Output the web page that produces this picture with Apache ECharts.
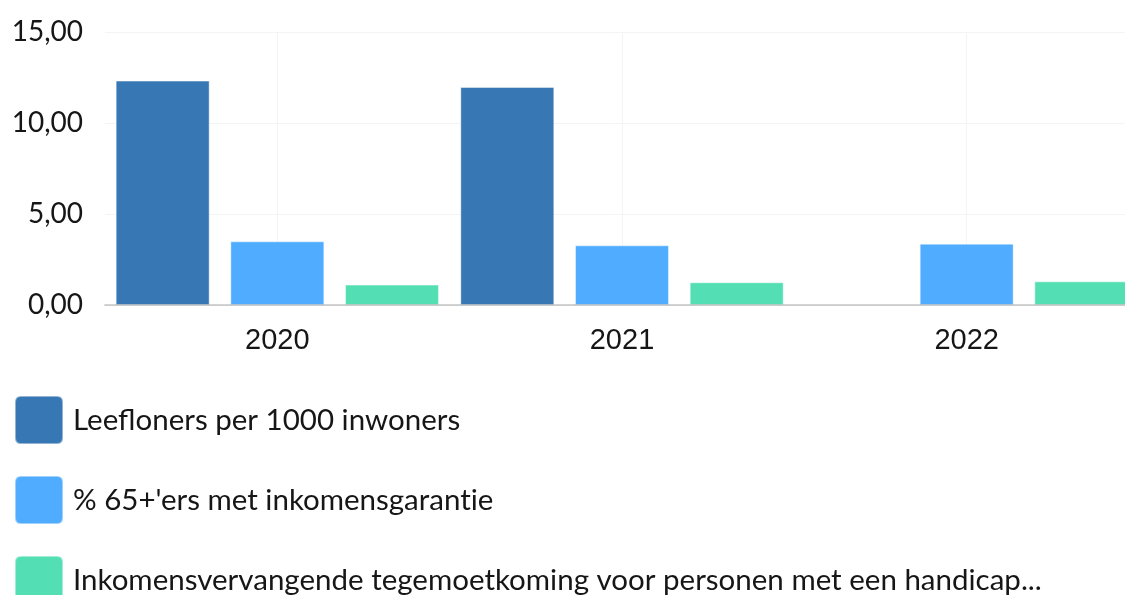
<!DOCTYPE html>
<html>
<head>
<meta charset="utf-8">
<script src="https://cdn.jsdelivr.net/npm/echarts@6/dist/echarts.min.js"></script>
<style>
  html, body { margin: 0; padding: 0; background: #ffffff; }
  #chart { width: 1125px; height: 595px; }
</style>
</head>
<body>
<div id="chart"></div>
<script>
// Years on the category axis
const years = ['2020', '2021', '2022'];

// Series names
const seriesNames = [
  'Leefloners per 1000 inwoners',
  "% 65+'ers met inkomensgarantie",
  'Inkomensvervangende tegemoetkoming voor personen met een handicap...'
];

// Values per year (null = no figure for that year)
const leefloners = [12.33, 11.98, null];
const inkomensgarantie = [3.50, 3.28, 3.37];
const tegemoetkoming = [1.12, 1.25, 1.30];

// Value-axis tick labels (0, 5, 10, 15)
const yTickLabels = ['0,00', '5,00', '10,00', '15,00'];

const colors = ['#3777b4', '#4facff', '#54deb3'];

// Rounded square used as legend marker
const legendIcon = 'path://M6,0 H42 Q48,0 48,6 V42 Q48,48 42,48 H6 Q0,48 0,42 V6 Q0,0 6,0 Z';

const chart = echarts.init(document.getElementById('chart'));

function barSeries(name, data, color) {
  return {
    name: name,
    type: 'bar',
    data: data,
    barWidth: 94,
    barGap: '22%',
    itemStyle: {
      color: color,
      borderColor: 'rgba(255,255,255,0.45)',
      borderWidth: 1
    }
  };
}

// Split "ti" into two text runs so the font does not draw its ligature
function noTiLigature(name) {
  return name.replace(/ti/g, 't{s|i}');
}

const legendFont = { fontFamily: 'Lato', fontSize: 29.5, color: '#161616' };

chart.setOption({
  animation: false,
  color: colors,
  // plot area runs past the right edge of the canvas
  grid: { left: 105, right: -14, top: 32, bottom: 290, outerBoundsMode: 'none' },
  legend: {
    orient: 'vertical',
    left: 9,
    top: 390,
    height: 400,
    itemWidth: 48,
    itemHeight: 48,
    itemGap: 30,
    icon: legendIcon,
    formatter: noTiLigature,
    textStyle: Object.assign({}, legendFont, {
      padding: [0, 0, 0, 5],
      rich: { s: legendFont }
    }),
    data: seriesNames
  },
  xAxis: [
    {
      type: 'category',
      data: years,
      position: 'bottom',
      z: 0,
      axisLine: { show: false },
      axisTick: { show: false },
      axisLabel: {
        fontFamily: 'Liberation Sans',
        fontSize: 29,
        color: '#161616',
        margin: 21
      },
      splitLine: {
        show: true,
        alignWithLabel: true,
        lineStyle: { color: '#f3f4f5', width: 1 }
      }
    },
    {
      // baseline drawn above the bars
      type: 'category',
      data: years,
      position: 'bottom',
      z: 10,
      axisLine: { show: true, lineStyle: { color: 'rgba(0,0,0,0.17)', width: 2 } },
      axisTick: { show: false },
      axisLabel: { show: false },
      splitLine: { show: false }
    }
  ],
  yAxis: {
    type: 'value',
    min: 0,
    max: 15,
    interval: 5,
    axisLine: { show: false },
    axisTick: { show: false },
    axisLabel: {
      fontFamily: 'Lato',
      fontSize: 28,
      color: '#161616',
      margin: 22,
      formatter: function (v) { return yTickLabels[Math.round(v / 5)]; }
    },
    splitLine: { lineStyle: { color: '#f3f4f5', width: 1 } }
  },
  series: [
    barSeries(seriesNames[0], leefloners, colors[0]),
    barSeries(seriesNames[1], inkomensgarantie, colors[1]),
    barSeries(seriesNames[2], tegemoetkoming, colors[2])
  ]
});
</script>
</body>
</html>
